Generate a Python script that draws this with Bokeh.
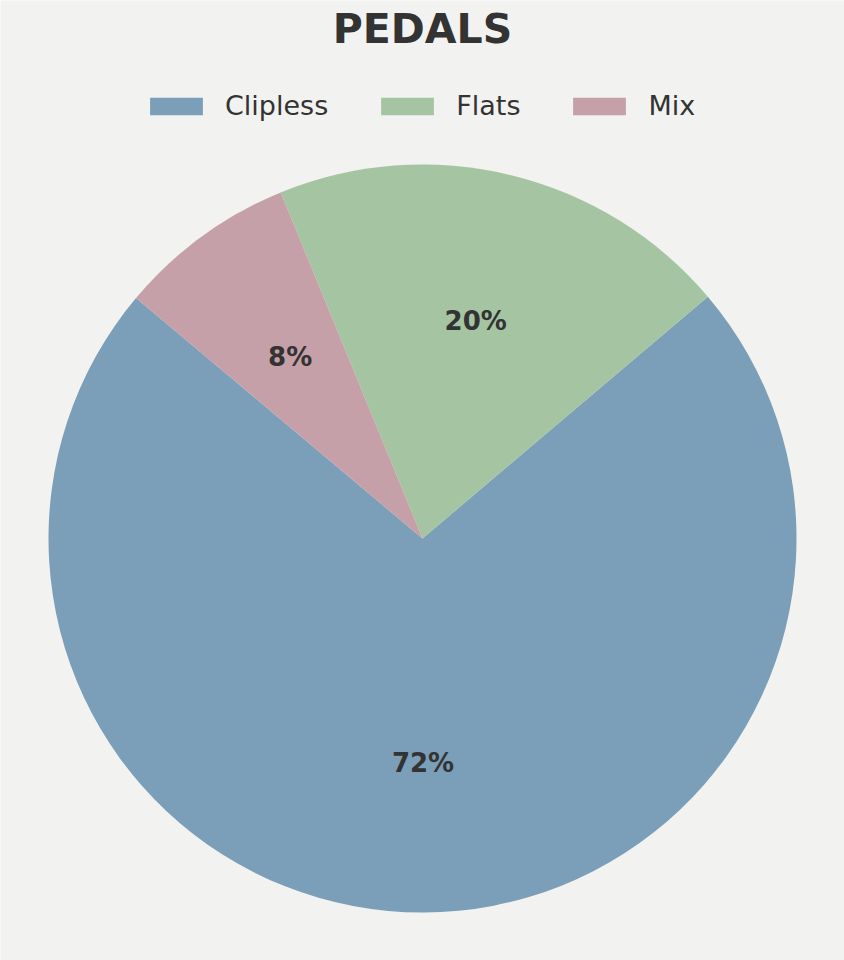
import numpy as np
from bokeh.plotting import figure
from bokeh.models import ColumnDataSource, Label
from bokeh.core.properties import value
from bokeh.embed import file_html
from bokeh.resources import INLINE

categories = ["Clipless", "Flats", "Mix"]
shares = [72.3, 20.0, 7.7]
colors = ["#7b9eb9", "#a5c5a2", "#c6a0a8"]
title_text = "PEDALS"

W, H = 844, 960
cx, cy, R = 422, 422, 374
start_deg = 140.0
FONT = "DejaVu Sans"
TXT = "#333333"
BG = "#f2f2f0"

vals = np.array(shares, dtype=float)
frac = vals / vals.sum()
ends = start_deg + np.cumsum(frac) * 360.0
starts = ends - frac * 360.0
mids = np.radians((starts + ends) / 2.0)

src = ColumnDataSource(dict(
    label=categories,
    start=np.radians(starts),
    end=np.radians(ends),
    color=colors,
    lx=cx + 0.6 * R * np.cos(mids),
    ly=cy + 0.6 * R * np.sin(mids),
    pct=[f"{v:.0f}%" for v in frac * 100],
))

p = figure(width=W, height=H, x_range=(0, W), y_range=(0, H),
           output_backend="svg", toolbar_location=None, min_border=0,
           background_fill_color=BG, border_fill_color=BG, outline_line_color=None)
p.axis.visible = False
p.grid.visible = False

p.wedge(x=cx, y=cy, radius=R, start_angle="start", end_angle="end",
        direction="anticlock", fill_color="color", line_color=None,
        legend_field="label", source=src)

p.text(x="lx", y="ly", text="pct", source=src, text_font=value(FONT),
       text_font_style="bold", text_font_size="26px", text_align="center",
       text_baseline="middle", text_color=TXT)

p.add_layout(Label(x=W / 2, y=H - 28, text=title_text, text_font=FONT,
                   text_font_style="bold", text_font_size="41px",
                   text_align="center", text_baseline="middle", text_color=TXT))

lg = p.legend[0]
lg.orientation = "horizontal"
lg.location = (143, 839)
lg.label_text_font = FONT
lg.label_text_font_size = "27px"
lg.label_text_color = TXT
lg.glyph_width = 66
lg.glyph_height = 22
lg.label_standoff = 16
lg.spacing = 46
lg.padding = 0
lg.margin = 0
lg.border_line_color = None
lg.background_fill_alpha = 0

open("out.html", "w").write(file_html(p, INLINE))
